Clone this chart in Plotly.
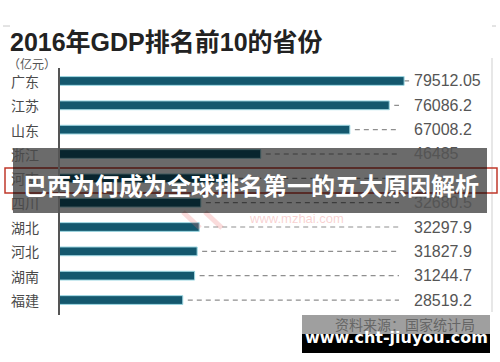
import plotly.graph_objects as go

# ---------------- data ----------------
provinces = ["广东", "江苏", "山东", "浙江", "河南", "四川", "湖北", "河北", "湖南", "福建"]
gdp = [79512.05, 76086.2, 67008.2, 46485, 40160.01, 32680.5, 32297.9, 31827.9, 31244.7, 28519.2]
value_labels = ["79512.05", "76086.2", "67008.2", "46485", "",
                "32680.5", "32297.9", "31827.9", "31244.7", "28519.2"]
title_text = "2016年GDP排名前10的省份"
unit_text = "（亿元）"
banner_text = "巴西为何成为全球排名第一的五大原因解析"
source_text = "资料来源：国家统计局"
site_text = "www.cht-jiuyou.com"
watermark_text = "www.mzhai.com"

# ---------------- layout helpers ----------------
W, H = 500, 362
AX_L_PX, AX_R_PX = 59, 490
X_RANGE_MAX = 99300.0
Y_TOP_PX, Y_BOT_PX = 68.8, 312.2


def px_x(px):
    return px / W


def px_y(py):
    return 1 - py / H


def px_to_data(px):
    return (px - AX_L_PX) / (AX_R_PX - AX_L_PX) * X_RANGE_MAX


GAP_DATA = px_to_data(AX_L_PX + 5)
DASH_END = px_to_data(399)

FONT = "Noto Sans CJK SC, Noto Sans, sans-serif"
NUMFONT = "Liberation Sans, Arial, sans-serif"
TITLEFONT = "Liberation Sans, Arial, Noto Sans CJK SC, sans-serif"

fig = go.Figure()
fig.add_trace(go.Bar(
    y=provinces, x=gdp, orientation="h", width=0.36,
    marker=dict(color="#14586e", line=dict(color="#9fd8e3", width=1)),
    hoverinfo="skip", showlegend=False,
))

shapes = []
annotations = []

# dashed leader lines
for p, v in zip(provinces, gdp):
    shapes.append(dict(type="line", xref="x", yref="y",
                       x0=v + GAP_DATA, x1=DASH_END, y0=p, y1=p,
                       line=dict(color="#8f8f8f", width=1.2, dash="5px,4px"),
                       layer="below"))

# category labels and value labels
for p, lab in zip(provinces, value_labels):
    annotations.append(dict(xref="paper", yref="y", x=px_x(9), y=p, text=p,
                            xanchor="left", yanchor="middle", showarrow=False,
                            font=dict(family=FONT, size=14, color="#4a4a4a")))
    if lab:
        annotations.append(dict(xref="paper", yref="y", x=px_x(412), y=p, text=lab,
                                xanchor="left", yanchor="middle", showarrow=False,
                                font=dict(family=NUMFONT, size=16, color="#555")))

# title & unit
annotations.append(dict(xref="paper", yref="paper", x=px_x(8), y=px_y(42), text="<b>" + title_text + "</b>",
                        xanchor="left", yanchor="middle", showarrow=False,
                        font=dict(family=TITLEFONT, size=25, color="#222")))
annotations.append(dict(xref="paper", yref="paper", x=px_x(6), y=px_y(63), text=unit_text,
                        xanchor="left", yanchor="middle", showarrow=False,
                        font=dict(family=FONT, size=12, color="#555")))

# faint frame pieces
shapes.append(dict(type="line", xref="paper", yref="paper", x0=px_x(492), x1=px_x(492),
                   y0=px_y(58), y1=px_y(312), line=dict(color="#cfcfcf", width=1)))
shapes.append(dict(type="line", xref="paper", yref="paper", x0=px_x(3), x1=px_x(10),
                   y0=px_y(26), y1=px_y(26), line=dict(color="#c8c8c8", width=1)))
shapes.append(dict(type="line", xref="paper", yref="paper", x0=px_x(492), x1=px_x(496),
                   y0=px_y(26), y1=px_y(26), line=dict(color="#c8c8c8", width=1)))

# watermark
annotations.append(dict(xref="paper", yref="paper", x=px_x(296), y=px_y(219), text=watermark_text,
                        xanchor="center", yanchor="middle", showarrow=False,
                        font=dict(family=NUMFONT, size=13, color="rgba(235,120,120,0.35)")))
shapes.append(dict(type="line", xref="paper", yref="paper", x0=px_x(183), x1=px_x(200),
                   y0=px_y(212), y1=px_y(228), line=dict(color="rgba(235,110,110,0.25)", width=5)))
shapes.append(dict(type="line", xref="paper", yref="paper", x0=px_x(205), x1=px_x(222),
                   y0=px_y(212), y1=px_y(228), line=dict(color="rgba(235,110,110,0.25)", width=5)))

# red highlight box and dark banner
shapes.append(dict(type="rect", xref="paper", yref="paper", x0=px_x(5), x1=px_x(497),
                   y0=px_y(193), y1=px_y(168), line=dict(color="#c0392b", width=1.5),
                   fillcolor="rgba(0,0,0,0)"))
shapes.append(dict(type="rect", xref="paper", yref="paper", x0=px_x(13), x1=px_x(487),
                   y0=px_y(213), y1=px_y(148), line=dict(width=0),
                   fillcolor="rgba(0,0,0,0.58)"))
annotations.append(dict(xref="paper", yref="paper", x=px_x(251), y=px_y(184), text="<b>" + banner_text + "</b>",
                        xanchor="center", yanchor="middle", showarrow=False,
                        font=dict(family=FONT, size=24, color="white")))

# bottom source / site boxes
annotations.append(dict(xref="paper", yref="paper", x=px_x(405), y=px_y(324), text=source_text,
                        xanchor="center", yanchor="middle", showarrow=False,
                        font=dict(family=FONT, size=14, color="#666")))
shapes.append(dict(type="rect", xref="paper", yref="paper", x0=px_x(302), x1=px_x(490),
                   y0=px_y(335), y1=px_y(315), line=dict(width=0),
                   fillcolor="rgba(80,80,80,0.55)"))
shapes.append(dict(type="rect", xref="paper", yref="paper", x0=px_x(302), x1=px_x(490),
                   y0=px_y(353), y1=px_y(334), line=dict(width=0), fillcolor="black"))
annotations.append(dict(xref="paper", yref="paper", x=px_x(396), y=px_y(337), text="<b>" + site_text + "</b>",
                        xanchor="center", yanchor="middle", showarrow=False,
                        font=dict(family="DejaVu Sans, sans-serif", size=16, color="white")))

fig.update_layout(
    width=W, height=H, margin=dict(l=0, r=0, t=0, b=0),
    paper_bgcolor="white", plot_bgcolor="white",
    xaxis=dict(domain=[px_x(AX_L_PX), px_x(AX_R_PX)], range=[0, X_RANGE_MAX],
               visible=False, fixedrange=True),
    yaxis=dict(domain=[px_y(Y_BOT_PX), px_y(Y_TOP_PX)], autorange="reversed",
               showticklabels=False, showgrid=False, zeroline=False, ticks="",
               showline=False, fixedrange=True),
    shapes=shapes, annotations=annotations, bargap=0.6,
)
# y axis line
fig.add_shape(type="line", xref="paper", yref="paper", x0=px_x(AX_L_PX), x1=px_x(AX_L_PX),
              y0=px_y(315), y1=px_y(68), line=dict(color="#555", width=2))

fig.write_html("out.html", config={"displayModeBar": False},
               post_script="document.body.style.margin='0px';document.body.style.padding='0px';")
